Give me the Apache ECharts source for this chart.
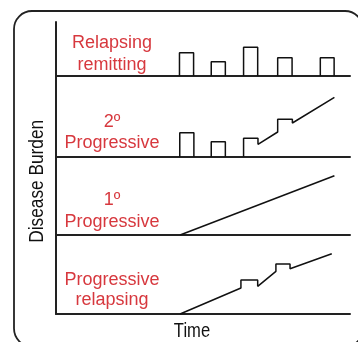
<!DOCTYPE html>
<html>
<head>
<meta charset="utf-8">
<script src="https://cdn.jsdelivr.net/npm/echarts@6/dist/echarts.min.js"></script>
<style>
html,body{margin:0;padding:0;background:#fff;}
#chart{width:358px;height:342px;}
</style>
</head>
<body>
<div id="chart"></div>
<script>
// Panel labels (top to bottom)
const panelLabels = [
  ['Relapsing', 'remitting'],
  ['2º', 'Progressive'],
  ['1º', 'Progressive'],
  ['Progressive', 'relapsing']
];
const yTitle = 'Disease Burden';
const xTitle = 'Time';

// Relapsing remitting: relapse episodes (time start, time end, burden height)
const rrStart  = [42.0, 52.8, 63.8, 75.4, 89.9];
const rrEnd    = [46.8, 57.6, 68.6, 80.3, 94.6];
const rrHeight = [23.3, 14.3, 28.7, 18.3, 18.3];

// Secondary progressive: early relapses then progression
const spStart  = [42.1, 52.8];
const spEnd    = [46.9, 57.6];
const spHeight = [24.3, 15.3];
const spTime   = [63.8, 63.8, 68.7, 68.7, 75.4, 75.4, 80.4, 80.4, 94.7];
const spBurden = [0, 18.7, 18.7, 12.7, 25.0, 37.7, 37.7, 34.0, 59.7];

// Primary progressive
const ppTime   = [42.2, 94.7];
const ppBurden = [0, 59.3];

// Progressive relapsing
const prTime   = [42.2, 62.9, 62.9, 68.6, 68.6, 74.8, 74.8, 79.6, 79.6, 93.8];
const prBurden = [0, 26.0, 34.0, 34.0, 27.7, 42.7, 50.0, 50.0, 45.3, 60.3];

function relapses(starts, ends, heights) {
  const out = [];
  starts.forEach((s, i) => {
    if (i > 0) out.push('-');
    out.push([s, 0], [s, heights[i]], [ends[i], heights[i]], [ends[i], 0]);
  });
  return out;
}
function pairs(xs, ys) { return xs.map((x, i) => [x, ys[i]]); }

const panelData = [
  relapses(rrStart, rrEnd, rrHeight),
  relapses(spStart, spEnd, spHeight).concat(['-'], pairs(spTime, spBurden)),
  pairs(ppTime, ppBurden),
  pairs(prTime, prBurden)
];

// layout
const gridTops = [22, 76, 157, 235];
const gridHeights = [54, 81, 78, 79];
const gridLeft = 56, gridRight = 8;
const axisColor = '#222';
const red = '#d7383e';

const grids = [], xAxes = [], yAxes = [], series = [], graphics = [];
for (let i = 0; i < 4; i++) {
  grids.push({left: gridLeft, right: gridRight, top: gridTops[i], height: gridHeights[i]});
  xAxes.push({
    gridIndex: i, type: 'value', min: 0, max: 100,
    axisLine: {show: true, lineStyle: {color: axisColor, width: 2}},
    axisTick: {show: false}, axisLabel: {show: false}, splitLine: {show: false}
  });
  yAxes.push({
    gridIndex: i, type: 'value', min: 0, max: gridHeights[i],
    axisLine: {show: true, lineStyle: {color: axisColor, width: 2}},
    axisTick: {show: false}, axisLabel: {show: false}, splitLine: {show: false}
  });
  series.push({
    type: 'line', xAxisIndex: i, yAxisIndex: i,
    data: panelData[i], showSymbol: false, symbol: 'none',
    connectNulls: false, silent: true, animation: false,
    lineStyle: {color: '#111', width: 1.5}
  });
}

// red panel labels (baseline y values from the picture)
const labelBaselines = [[49.3, 71.2], [128.3, 149.0], [206.0, 228.7], [286.0, 306.3]];
const fsLabel = 18;
panelLabels.forEach((lines, i) => {
  lines.forEach((t, j) => {
    graphics.push({
      type: 'text', x: 112, y: labelBaselines[i][j] - 0.3465 * fsLabel,
      style: {text: t, fill: red, font: fsLabel + "px 'Liberation Sans', Arial, sans-serif",
              textAlign: 'center', textVerticalAlign: 'middle', verticalAlign: 'middle'}
    });
  });
});

// condensed look for axis titles via horizontal scaling
const titleFont = "21px 'Liberation Sans', Arial, sans-serif";
graphics.push({
  type: 'text', x: 37, y: 181.3, rotation: Math.PI / 2, scaleX: 0.823, scaleY: 1,
  style: {text: yTitle, fill: '#111', font: titleFont,
          textAlign: 'center', textVerticalAlign: 'middle', verticalAlign: 'middle'}
});
graphics.push({
  type: 'text', x: 192, y: 331, scaleX: 0.79, scaleY: 1,
  style: {text: xTitle, fill: '#111', font: titleFont,
          textAlign: 'center', textVerticalAlign: 'middle', verticalAlign: 'middle'}
});
// rounded frame
graphics.push({
  type: 'rect', shape: {x: 14, y: 11, width: 349, height: 335.6, r: 18},
  style: {fill: 'none', stroke: '#222', lineWidth: 1.8}, silent: true
});

const chart = echarts.init(document.getElementById('chart'), null, {renderer: 'canvas'});
chart.setOption({
  animation: false,
  backgroundColor: '#fff',
  grid: grids, xAxis: xAxes, yAxis: yAxes, series: series,
  graphic: graphics
});
</script>
</body>
</html>
